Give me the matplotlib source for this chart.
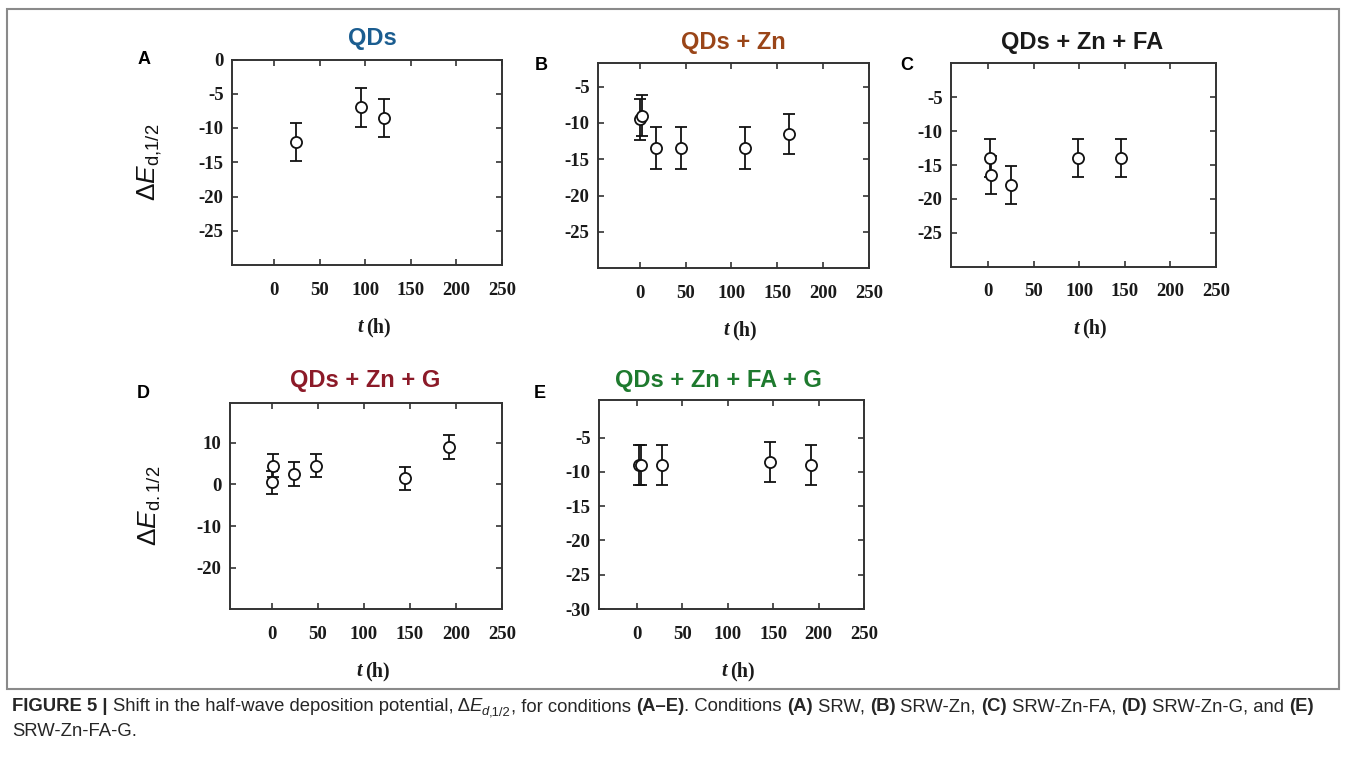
import matplotlib
matplotlib.use('Agg')
import matplotlib.pyplot as plt
from matplotlib import font_manager
from matplotlib.patches import Rectangle

W, H = 1346, 772

# panel A - QDs
a_t = [24, 95, 120]
a_e = [-12, -7, -8.5]
a_err = [2.8, 2.8, 2.8]

# panel B - QDs + Zn
b_t = [0, 2, 18, 45, 115, 163]
b_e = [-9.5, -9, -13.5, -13.5, -13.5, -11.5]
b_err = [2.8, 2.8, 2.9, 2.9, 2.9, 2.8]

# panel C - QDs + Zn + FA
c_t = [2, 3, 25, 98, 146]
c_e = [-14, -16.5, -18, -14, -14]
c_err = [2.8, 2.8, 2.8, 2.8, 2.8]

# panel D - QDs + Zn + G
d_t = [0, 1, 24, 48, 145, 192]
d_e = [0.5, 4.5, 2.5, 4.5, 1.5, 9]
d_err = [2.8, 2.8, 2.8, 2.8, 2.8, 2.8]

# panel E - QDs + Zn + FA + G
e_t = [2, 4, 27, 146, 192]
e_e = [-9, -9, -9, -8.5, -9]
e_err = [2.9, 2.9, 2.9, 2.9, 2.9]

titles = ['QDs', 'QDs + Zn', 'QDs + Zn + FA', 'QDs + Zn + G', 'QDs + Zn + FA + G']
title_colors = ['#1b5d90', '#9a4518', '#1a1a1a', '#8c1a28', '#1e7a2e']
letters = ['A', 'B', 'C', 'D', 'E']
x_ticks = [0, 50, 100, 150, 200, 250]

plt.rcParams['mathtext.fontset'] = 'custom'
plt.rcParams['mathtext.rm'] = 'Liberation Sans'
plt.rcParams['mathtext.it'] = 'Liberation Sans:italic'
plt.rcParams['mathtext.bf'] = 'Liberation Sans:bold'

installed = set(f.name for f in font_manager.fontManager.ttflist)
cap_font = 'Liberation Sans Narrow' if 'Liberation Sans Narrow' in installed else 'Liberation Sans'


def fx(x):
	return x / W


def fy(y):
	return 1 - y / H


def make_axes(fig, left, top, right, bottom):
	return fig.add_axes([fx(left), fy(bottom), (right - left) / W, (bottom - top) / H])


def draw_panel(fig, box, t, e, err, xlim, ylim, yticks, title, color, letter, title_xy, letter_xy, ylabel=None):
	left, top, right, bottom = box
	ax = make_axes(fig, left, top, right, bottom)
	ax.errorbar(t, e, yerr=err, fmt='o', color='#111111', ecolor='#111111', elinewidth=1.3,
		capsize=4.5, capthick=1.3, markersize=8, markerfacecolor='white', markeredgewidth=1.3)
	ax.set_xlim(*xlim)
	ax.set_ylim(*ylim)
	ax.set_xticks(x_ticks)
	ax.set_yticks(yticks)
	ax.set_yticklabels(['%d' % v for v in yticks])
	for s in ax.spines.values():
		s.set_color('#333333')
		s.set_linewidth(1.4)
	ax.tick_params(direction='in', length=4, width=1.2, color='#333333', top=True, right=True,
		labelsize=13.5, labelcolor='#1a1a1a')
	ax.tick_params(axis='x', pad=12)
	ax.tick_params(axis='y', pad=6)
	for lab in ax.get_xticklabels() + ax.get_yticklabels():
		lab.set_fontfamily('Liberation Serif')
		lab.set_fontweight('bold')
	# x label, italic t
	cx = (left + right) / 2
	fig.text(fx(cx - 4), fy(bottom + 62), 't', fontsize=14.5, family='Liberation Serif',
		style='italic', weight='bold', ha='right', va='center', color='#1a1a1a')
	fig.text(fx(cx - 1), fy(bottom + 62), '(h)', fontsize=14.5, family='Liberation Serif',
		weight='bold', ha='left', va='center', color='#1a1a1a')
	fig.text(fx(title_xy[0]), fy(title_xy[1]), title, fontsize=17, family='Liberation Sans', weight='bold',
		color=color, ha='center', va='center')
	fig.text(fx(letter_xy[0]), fy(letter_xy[1]), letter, fontsize=13, family='Liberation Sans', weight='bold',
		color='black', ha='center', va='center')
	if ylabel is not None:
		fig.text(fx(150), fy((top + bottom) / 2), ylabel, fontsize=19, rotation=90, ha='center', va='center',
			color='#111111')
	return ax


def caption_line(fig, pieces, x0, y, size):
	# pieces: (text, weight, style, scale, dy)
	renderer = fig.canvas.get_renderer()
	x = x0
	out = []
	for text, weight, style, scale, dy in pieces:
		t = fig.text(fx(x), fy(y + dy * size), text, fontsize=size * scale, family=cap_font,
			weight=weight, style=style, color='#262626', ha='left', va='baseline')
		bb = t.get_window_extent(renderer)
		x += bb.width
		out.append(t)
	return out, x


fig = plt.figure(figsize=(W / 100, H / 100), dpi=100)

draw_panel(fig, (232, 59.5, 502, 265), a_t, a_e, a_err, (-46.5, 250), (-30, 0), [0, -5, -10, -15, -20, -25],
	titles[0], title_colors[0], letters[0], (372, 38), (144, 60), r'$\Delta E_{\mathrm{d{,}1/2}}$')
draw_panel(fig, (598, 62.7, 869, 268.3), b_t, b_e, b_err, (-45.6, 250), (-30, -1.7), [-5, -10, -15, -20, -25],
	titles[1], title_colors[1], letters[1], (733, 42), (541, 66))
draw_panel(fig, (951, 63.3, 1216, 266.7), c_t, c_e, c_err, (-41, 250), (-30, 0), [-5, -10, -15, -20, -25],
	titles[2], title_colors[2], letters[2], (1082, 43), (907, 65))
draw_panel(fig, (230, 403.3, 502, 609.3), d_t, d_e, d_err, (-45.3, 250), (-30, 19.5), [10, 0, -10, -20],
	titles[3], title_colors[3], letters[3], (365, 381), (143, 393), r'$\Delta E_{\mathrm{d.1/2}}$')
draw_panel(fig, (599, 400, 864, 609), e_t, e_e, e_err, (-42, 248), (-30, 0.5), [-5, -10, -15, -20, -25, -30],
	titles[4], title_colors[4], letters[4], (718, 381), (540, 394))

# outer frame
fig.patches.append(Rectangle((fx(7), fy(689)), (1339 - 7) / W, (689 - 9) / H, transform=fig.transFigure,
	fill=False, edgecolor='#8a8a8a', linewidth=1.5))

# caption
N, B, I = 'normal', 'bold', 'italic'
line1 = [
	('FIGURE 5 | ', B, N, 1, 0),
	('Shift in the half-wave deposition potential, \u0394', N, N, 1, 0),
	('E', N, I, 1, 0),
	('d', N, I, 0.7, 0.3),
	(',1/2', N, N, 0.7, 0.3),
	(', for conditions ', N, N, 1, 0),
	('(A\u2013E)', B, N, 1, 0),
	('. Conditions ', N, N, 1, 0),
	('(A)', B, N, 1, 0), (' SRW, ', N, N, 1, 0),
	('(B)', B, N, 1, 0), (' SRW-Zn, ', N, N, 1, 0),
	('(C)', B, N, 1, 0), (' SRW-Zn-FA, ', N, N, 1, 0),
	('(D)', B, N, 1, 0), (' SRW-Zn-G, and ', N, N, 1, 0),
	('(E)', B, N, 1, 0),
]
line2 = [('SRW-Zn-FA-G.', N, N, 1, 0)]

texts, end = caption_line(fig, line1, 12, 711, 11)
size = 11 * (1316 - 12) / (end - 12)
for t in texts:
	t.remove()
caption_line(fig, line1, 12, 711, size)
caption_line(fig, line2, 12, 736, size)

fig.savefig('out.png', dpi=100)
